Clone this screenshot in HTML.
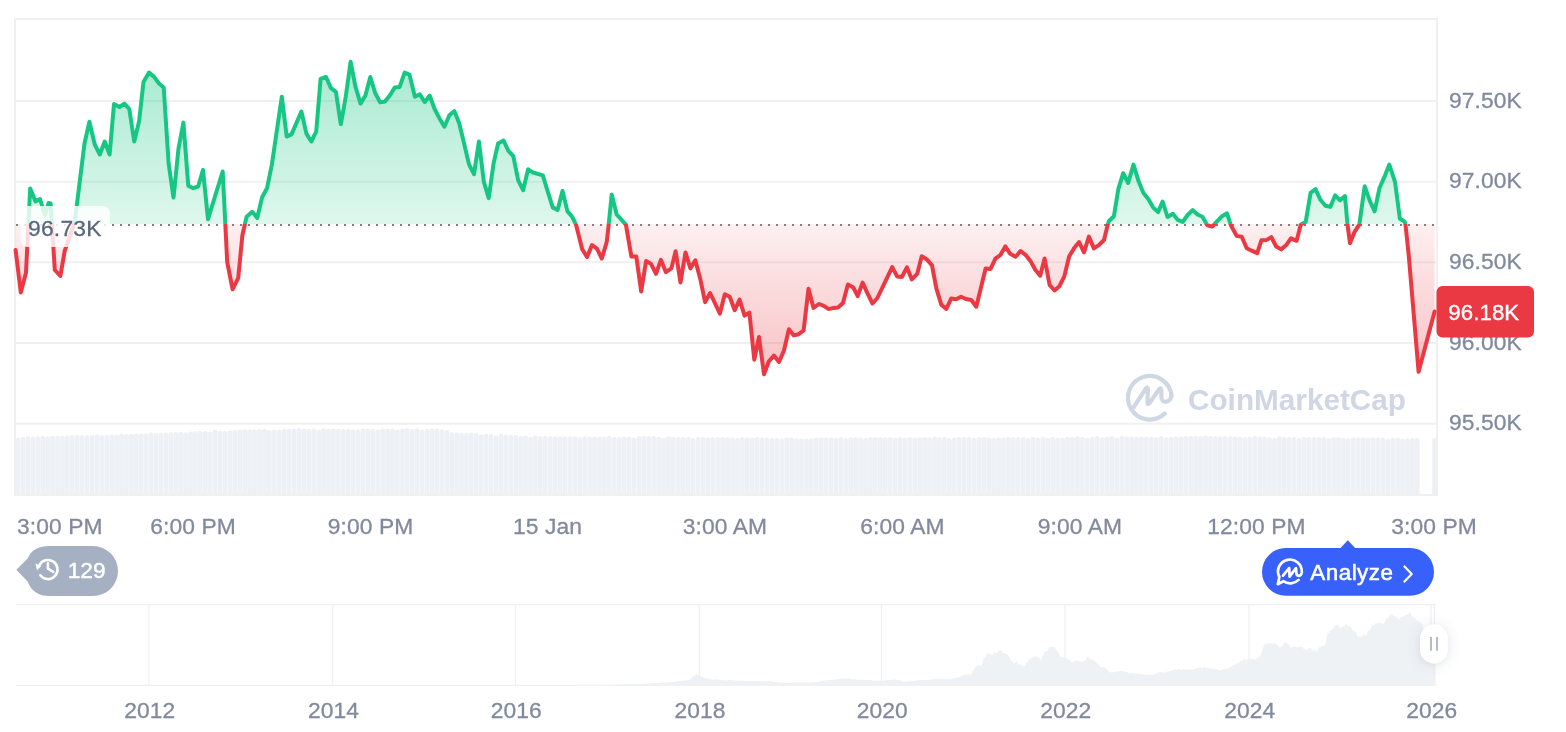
<!DOCTYPE html>
<html lang="en"><head><meta charset="utf-8"><title>BTC chart</title>
<style>
html,body{margin:0;padding:0;background:#fff;}
body{width:1566px;height:732px;overflow:hidden;position:relative;font-family:"Liberation Sans",Arial,sans-serif;}
svg{position:absolute;left:0;top:0;display:block}
svg text{font-family:"Liberation Sans",Arial,sans-serif;}
.ax text{font-size:22.8px;fill:#808A9D;letter-spacing:0.1px;stroke:#808A9D;stroke-width:0.3px}
</style></head><body>
<svg width="1566" height="732" viewBox="0 0 1566 732">
<defs>
<linearGradient id="gg" gradientUnits="userSpaceOnUse" x1="0" y1="19" x2="0" y2="224">
<stop offset="0" stop-color="#16C784" stop-opacity="0.44"/><stop offset="1" stop-color="#16C784" stop-opacity="0.14"/></linearGradient>
<linearGradient id="rg" gradientUnits="userSpaceOnUse" x1="0" y1="224" x2="0" y2="423.5">
<stop offset="0" stop-color="#EA3943" stop-opacity="0.08"/><stop offset="1" stop-color="#EA3943" stop-opacity="0.39"/></linearGradient>
<clipPath id="up"><rect x="0" y="0" width="1566" height="224"/></clipPath>
<clipPath id="dn"><rect x="0" y="224" width="1566" height="300"/></clipPath>
<clipPath id="plot"><rect x="16" y="20" width="1420" height="474"/></clipPath>
<filter id="sh" x="-100%" y="-60%" width="300%" height="220%"><feDropShadow dx="0" dy="1.5" stdDeviation="6" flood-color="#58667E" flood-opacity="0.2"/></filter>
</defs>
<!-- frame -->
<g stroke="#F0F0F0" stroke-width="2" fill="none">
<line x1="14" x2="1438" y1="19" y2="19"/>
<line x1="15" x2="15" y1="19" y2="495"/>
<line x1="1437" x2="1437" y1="19" y2="495"/>
<line x1="14" x2="1438" y1="495" y2="495"/>
<line x1="15" x2="1437" y1="101" y2="101"/><line x1="15" x2="1437" y1="181.7" y2="181.7"/><line x1="15" x2="1437" y1="262.3" y2="262.3"/><line x1="15" x2="1437" y1="343" y2="343"/><line x1="15" x2="1437" y1="423.7" y2="423.7"/>
</g>
<!-- volume -->
<g fill="#EDF0F4" clip-path="url(#plot)"><rect x="15.8" y="437.6" width="4.65" height="59.9" rx="2" ry="2"/><rect x="20.7" y="436.8" width="4.65" height="60.7" rx="2" ry="2"/><rect x="25.6" y="436" width="4.65" height="61.5" rx="2" ry="2"/><rect x="30.5" y="436.4" width="4.65" height="61.1" rx="2" ry="2"/><rect x="35.5" y="436.2" width="4.65" height="61.3" rx="2" ry="2"/><rect x="40.4" y="436" width="4.65" height="61.5" rx="2" ry="2"/><rect x="45.3" y="436.5" width="4.65" height="61" rx="2" ry="2"/><rect x="50.2" y="435.8" width="4.65" height="61.7" rx="2" ry="2"/><rect x="55.2" y="435.7" width="4.65" height="61.8" rx="2" ry="2"/><rect x="60.1" y="435.7" width="4.65" height="61.8" rx="2" ry="2"/><rect x="65" y="435.6" width="4.65" height="61.9" rx="2" ry="2"/><rect x="69.9" y="434.9" width="4.65" height="62.6" rx="2" ry="2"/><rect x="74.9" y="434.8" width="4.65" height="62.7" rx="2" ry="2"/><rect x="79.8" y="435.3" width="4.65" height="62.2" rx="2" ry="2"/><rect x="84.7" y="435.3" width="4.65" height="62.2" rx="2" ry="2"/><rect x="89.7" y="435.2" width="4.65" height="62.3" rx="2" ry="2"/><rect x="94.6" y="434.5" width="4.65" height="63" rx="2" ry="2"/><rect x="99.5" y="435" width="4.65" height="62.5" rx="2" ry="2"/><rect x="104.4" y="434.8" width="4.65" height="62.7" rx="2" ry="2"/><rect x="109.4" y="434.6" width="4.65" height="62.9" rx="2" ry="2"/><rect x="114.3" y="434.4" width="4.65" height="63.1" rx="2" ry="2"/><rect x="119.2" y="433.6" width="4.65" height="63.9" rx="2" ry="2"/><rect x="124.1" y="434" width="4.65" height="63.5" rx="2" ry="2"/><rect x="129.1" y="433.8" width="4.65" height="63.7" rx="2" ry="2"/><rect x="134" y="433.6" width="4.65" height="63.9" rx="2" ry="2"/><rect x="138.9" y="433.4" width="4.65" height="64.1" rx="2" ry="2"/><rect x="143.9" y="433.3" width="4.65" height="64.2" rx="2" ry="2"/><rect x="148.8" y="432.5" width="4.65" height="65" rx="2" ry="2"/><rect x="153.7" y="432.9" width="4.65" height="64.6" rx="2" ry="2"/><rect x="158.6" y="432.7" width="4.65" height="64.8" rx="2" ry="2"/><rect x="163.6" y="432.5" width="4.65" height="65" rx="2" ry="2"/><rect x="168.5" y="432.3" width="4.65" height="65.2" rx="2" ry="2"/><rect x="173.4" y="432.1" width="4.65" height="65.4" rx="2" ry="2"/><rect x="178.3" y="431.9" width="4.65" height="65.6" rx="2" ry="2"/><rect x="183.3" y="432.3" width="4.65" height="65.2" rx="2" ry="2"/><rect x="188.2" y="431.5" width="4.65" height="66" rx="2" ry="2"/><rect x="193.1" y="431.3" width="4.65" height="66.2" rx="2" ry="2"/><rect x="198" y="431.1" width="4.65" height="66.4" rx="2" ry="2"/><rect x="203" y="430.9" width="4.65" height="66.6" rx="2" ry="2"/><rect x="207.9" y="431.6" width="4.65" height="65.9" rx="2" ry="2"/><rect x="212.8" y="429.8" width="4.65" height="67.7" rx="2" ry="2"/><rect x="217.8" y="430.7" width="4.65" height="66.8" rx="2" ry="2"/><rect x="222.7" y="430.9" width="4.65" height="66.6" rx="2" ry="2"/><rect x="227.6" y="430.6" width="4.65" height="66.9" rx="2" ry="2"/><rect x="232.5" y="430.1" width="4.65" height="67.4" rx="2" ry="2"/><rect x="237.5" y="429.4" width="4.65" height="68.1" rx="2" ry="2"/><rect x="242.4" y="429.3" width="4.65" height="68.2" rx="2" ry="2"/><rect x="247.3" y="429.3" width="4.65" height="68.2" rx="2" ry="2"/><rect x="252.2" y="429.2" width="4.65" height="68.3" rx="2" ry="2"/><rect x="257.2" y="429.1" width="4.65" height="68.4" rx="2" ry="2"/><rect x="262.1" y="429" width="4.65" height="68.5" rx="2" ry="2"/><rect x="267" y="430" width="4.65" height="67.5" rx="2" ry="2"/><rect x="272" y="429.5" width="4.65" height="68" rx="2" ry="2"/><rect x="276.9" y="429.8" width="4.65" height="67.7" rx="2" ry="2"/><rect x="281.8" y="428.8" width="4.65" height="68.7" rx="2" ry="2"/><rect x="286.7" y="428.7" width="4.65" height="68.8" rx="2" ry="2"/><rect x="291.7" y="428.6" width="4.65" height="68.9" rx="2" ry="2"/><rect x="296.6" y="428" width="4.65" height="69.5" rx="2" ry="2"/><rect x="301.5" y="428.5" width="4.65" height="69" rx="2" ry="2"/><rect x="306.4" y="429.1" width="4.65" height="68.4" rx="2" ry="2"/><rect x="311.4" y="428.5" width="4.65" height="69" rx="2" ry="2"/><rect x="316.3" y="429.5" width="4.65" height="68" rx="2" ry="2"/><rect x="321.2" y="427.9" width="4.65" height="69.6" rx="2" ry="2"/><rect x="326.2" y="428.5" width="4.65" height="69" rx="2" ry="2"/><rect x="331.1" y="428.5" width="4.65" height="69" rx="2" ry="2"/><rect x="336" y="429.1" width="4.65" height="68.4" rx="2" ry="2"/><rect x="340.9" y="429.1" width="4.65" height="68.4" rx="2" ry="2"/><rect x="345.9" y="429.1" width="4.65" height="68.4" rx="2" ry="2"/><rect x="350.8" y="429.5" width="4.65" height="68" rx="2" ry="2"/><rect x="355.7" y="429.5" width="4.65" height="68" rx="2" ry="2"/><rect x="360.6" y="428.5" width="4.65" height="69" rx="2" ry="2"/><rect x="365.6" y="428.5" width="4.65" height="69" rx="2" ry="2"/><rect x="370.5" y="428.5" width="4.65" height="69" rx="2" ry="2"/><rect x="375.4" y="429.5" width="4.65" height="68" rx="2" ry="2"/><rect x="380.3" y="428.5" width="4.65" height="69" rx="2" ry="2"/><rect x="385.3" y="428.5" width="4.65" height="69" rx="2" ry="2"/><rect x="390.2" y="428.5" width="4.65" height="69" rx="2" ry="2"/><rect x="395.1" y="429.5" width="4.65" height="68" rx="2" ry="2"/><rect x="400.1" y="428.5" width="4.65" height="69" rx="2" ry="2"/><rect x="405" y="427.9" width="4.65" height="69.6" rx="2" ry="2"/><rect x="409.9" y="429.1" width="4.65" height="68.4" rx="2" ry="2"/><rect x="414.8" y="428.5" width="4.65" height="69" rx="2" ry="2"/><rect x="419.8" y="429.5" width="4.65" height="68" rx="2" ry="2"/><rect x="424.7" y="429.1" width="4.65" height="68.4" rx="2" ry="2"/><rect x="429.6" y="428.5" width="4.65" height="69" rx="2" ry="2"/><rect x="434.5" y="428.5" width="4.65" height="69" rx="2" ry="2"/><rect x="439.5" y="429.5" width="4.65" height="68" rx="2" ry="2"/><rect x="444.4" y="430.2" width="4.65" height="67.3" rx="2" ry="2"/><rect x="449.3" y="432.2" width="4.65" height="65.3" rx="2" ry="2"/><rect x="454.3" y="432.7" width="4.65" height="64.8" rx="2" ry="2"/><rect x="459.2" y="432.9" width="4.65" height="64.6" rx="2" ry="2"/><rect x="464.1" y="433.1" width="4.65" height="64.4" rx="2" ry="2"/><rect x="469" y="432.7" width="4.65" height="64.8" rx="2" ry="2"/><rect x="474" y="432.9" width="4.65" height="64.6" rx="2" ry="2"/><rect x="478.9" y="434.6" width="4.65" height="62.9" rx="2" ry="2"/><rect x="483.8" y="433.8" width="4.65" height="63.7" rx="2" ry="2"/><rect x="488.7" y="434" width="4.65" height="63.5" rx="2" ry="2"/><rect x="493.7" y="435.2" width="4.65" height="62.3" rx="2" ry="2"/><rect x="498.6" y="433.8" width="4.65" height="63.7" rx="2" ry="2"/><rect x="503.5" y="434.8" width="4.65" height="62.7" rx="2" ry="2"/><rect x="508.4" y="435.1" width="4.65" height="62.4" rx="2" ry="2"/><rect x="513.4" y="434.9" width="4.65" height="62.6" rx="2" ry="2"/><rect x="518.3" y="435.9" width="4.65" height="61.6" rx="2" ry="2"/><rect x="523.2" y="435.4" width="4.65" height="62.1" rx="2" ry="2"/><rect x="528.2" y="436.6" width="4.65" height="60.9" rx="2" ry="2"/><rect x="533.1" y="435.5" width="4.65" height="62" rx="2" ry="2"/><rect x="538" y="436.1" width="4.65" height="61.4" rx="2" ry="2"/><rect x="542.9" y="436.1" width="4.65" height="61.4" rx="2" ry="2"/><rect x="547.9" y="436.2" width="4.65" height="61.3" rx="2" ry="2"/><rect x="552.8" y="436.2" width="4.65" height="61.3" rx="2" ry="2"/><rect x="557.7" y="436.2" width="4.65" height="61.3" rx="2" ry="2"/><rect x="562.6" y="436.2" width="4.65" height="61.3" rx="2" ry="2"/><rect x="567.6" y="436.3" width="4.65" height="61.2" rx="2" ry="2"/><rect x="572.5" y="436.3" width="4.65" height="61.2" rx="2" ry="2"/><rect x="577.4" y="437.3" width="4.65" height="60.2" rx="2" ry="2"/><rect x="582.4" y="436.3" width="4.65" height="61.2" rx="2" ry="2"/><rect x="587.3" y="436.4" width="4.65" height="61.1" rx="2" ry="2"/><rect x="592.2" y="436.4" width="4.65" height="61.1" rx="2" ry="2"/><rect x="597.1" y="436.4" width="4.65" height="61.1" rx="2" ry="2"/><rect x="602.1" y="436.5" width="4.65" height="61" rx="2" ry="2"/><rect x="607" y="435.9" width="4.65" height="61.6" rx="2" ry="2"/><rect x="611.9" y="437.1" width="4.65" height="60.4" rx="2" ry="2"/><rect x="616.8" y="437.1" width="4.65" height="60.4" rx="2" ry="2"/><rect x="621.8" y="436.6" width="4.65" height="60.9" rx="2" ry="2"/><rect x="626.7" y="436.6" width="4.65" height="60.9" rx="2" ry="2"/><rect x="631.6" y="437.6" width="4.65" height="59.9" rx="2" ry="2"/><rect x="636.6" y="436" width="4.65" height="61.5" rx="2" ry="2"/><rect x="641.5" y="436.1" width="4.65" height="61.4" rx="2" ry="2"/><rect x="646.4" y="436.1" width="4.65" height="61.4" rx="2" ry="2"/><rect x="651.3" y="436.1" width="4.65" height="61.4" rx="2" ry="2"/><rect x="656.3" y="436.8" width="4.65" height="60.7" rx="2" ry="2"/><rect x="661.2" y="437.8" width="4.65" height="59.7" rx="2" ry="2"/><rect x="666.1" y="436.2" width="4.65" height="61.3" rx="2" ry="2"/><rect x="671" y="436.8" width="4.65" height="60.7" rx="2" ry="2"/><rect x="676" y="436.9" width="4.65" height="60.6" rx="2" ry="2"/><rect x="680.9" y="436.9" width="4.65" height="60.6" rx="2" ry="2"/><rect x="685.8" y="436.9" width="4.65" height="60.6" rx="2" ry="2"/><rect x="690.7" y="437.9" width="4.65" height="59.6" rx="2" ry="2"/><rect x="695.7" y="437" width="4.65" height="60.5" rx="2" ry="2"/><rect x="700.6" y="437" width="4.65" height="60.5" rx="2" ry="2"/><rect x="705.5" y="437.6" width="4.65" height="59.9" rx="2" ry="2"/><rect x="710.5" y="437.1" width="4.65" height="60.4" rx="2" ry="2"/><rect x="715.4" y="437.1" width="4.65" height="60.4" rx="2" ry="2"/><rect x="720.3" y="437.2" width="4.65" height="60.3" rx="2" ry="2"/><rect x="725.2" y="437.2" width="4.65" height="60.3" rx="2" ry="2"/><rect x="730.2" y="437.3" width="4.65" height="60.2" rx="2" ry="2"/><rect x="735.1" y="437.9" width="4.65" height="59.6" rx="2" ry="2"/><rect x="740" y="437.3" width="4.65" height="60.2" rx="2" ry="2"/><rect x="744.9" y="437.4" width="4.65" height="60.1" rx="2" ry="2"/><rect x="749.9" y="437.4" width="4.65" height="60.1" rx="2" ry="2"/><rect x="754.8" y="436.9" width="4.65" height="60.6" rx="2" ry="2"/><rect x="759.7" y="437.5" width="4.65" height="60" rx="2" ry="2"/><rect x="764.7" y="437.5" width="4.65" height="60" rx="2" ry="2"/><rect x="769.6" y="438.1" width="4.65" height="59.4" rx="2" ry="2"/><rect x="774.5" y="438.1" width="4.65" height="59.4" rx="2" ry="2"/><rect x="779.4" y="438.5" width="4.65" height="59" rx="2" ry="2"/><rect x="784.4" y="437.4" width="4.65" height="60.1" rx="2" ry="2"/><rect x="789.3" y="437.4" width="4.65" height="60.1" rx="2" ry="2"/><rect x="794.2" y="438.4" width="4.65" height="59.1" rx="2" ry="2"/><rect x="799.1" y="438.4" width="4.65" height="59.1" rx="2" ry="2"/><rect x="804.1" y="438.4" width="4.65" height="59.1" rx="2" ry="2"/><rect x="809" y="438.4" width="4.65" height="59.1" rx="2" ry="2"/><rect x="813.9" y="437.4" width="4.65" height="60.1" rx="2" ry="2"/><rect x="818.9" y="437.4" width="4.65" height="60.1" rx="2" ry="2"/><rect x="823.8" y="437.4" width="4.65" height="60.1" rx="2" ry="2"/><rect x="828.7" y="437.4" width="4.65" height="60.1" rx="2" ry="2"/><rect x="833.6" y="437.9" width="4.65" height="59.6" rx="2" ry="2"/><rect x="838.6" y="437.3" width="4.65" height="60.2" rx="2" ry="2"/><rect x="843.5" y="438.3" width="4.65" height="59.2" rx="2" ry="2"/><rect x="848.4" y="437.3" width="4.65" height="60.2" rx="2" ry="2"/><rect x="853.3" y="437.3" width="4.65" height="60.2" rx="2" ry="2"/><rect x="858.3" y="437.3" width="4.65" height="60.2" rx="2" ry="2"/><rect x="863.2" y="437.9" width="4.65" height="59.6" rx="2" ry="2"/><rect x="868.1" y="437.3" width="4.65" height="60.2" rx="2" ry="2"/><rect x="873" y="437.3" width="4.65" height="60.2" rx="2" ry="2"/><rect x="878" y="437.3" width="4.65" height="60.2" rx="2" ry="2"/><rect x="882.9" y="437.2" width="4.65" height="60.3" rx="2" ry="2"/><rect x="887.8" y="437.2" width="4.65" height="60.3" rx="2" ry="2"/><rect x="892.8" y="437.8" width="4.65" height="59.7" rx="2" ry="2"/><rect x="897.7" y="437.2" width="4.65" height="60.3" rx="2" ry="2"/><rect x="902.6" y="437.8" width="4.65" height="59.7" rx="2" ry="2"/><rect x="907.5" y="437.2" width="4.65" height="60.3" rx="2" ry="2"/><rect x="912.5" y="437.8" width="4.65" height="59.7" rx="2" ry="2"/><rect x="917.4" y="437.2" width="4.65" height="60.3" rx="2" ry="2"/><rect x="922.3" y="437.2" width="4.65" height="60.3" rx="2" ry="2"/><rect x="927.2" y="437.2" width="4.65" height="60.3" rx="2" ry="2"/><rect x="932.2" y="436.5" width="4.65" height="61" rx="2" ry="2"/><rect x="937.1" y="437.1" width="4.65" height="60.4" rx="2" ry="2"/><rect x="942" y="437.1" width="4.65" height="60.4" rx="2" ry="2"/><rect x="947" y="438.1" width="4.65" height="59.4" rx="2" ry="2"/><rect x="951.9" y="437.7" width="4.65" height="59.8" rx="2" ry="2"/><rect x="956.8" y="437.1" width="4.65" height="60.4" rx="2" ry="2"/><rect x="961.7" y="437.1" width="4.65" height="60.4" rx="2" ry="2"/><rect x="966.7" y="437.1" width="4.65" height="60.4" rx="2" ry="2"/><rect x="971.6" y="438.1" width="4.65" height="59.4" rx="2" ry="2"/><rect x="976.5" y="437" width="4.65" height="60.5" rx="2" ry="2"/><rect x="981.4" y="437" width="4.65" height="60.5" rx="2" ry="2"/><rect x="986.4" y="437.6" width="4.65" height="59.9" rx="2" ry="2"/><rect x="991.3" y="438" width="4.65" height="59.5" rx="2" ry="2"/><rect x="996.2" y="437.6" width="4.65" height="59.9" rx="2" ry="2"/><rect x="1001.1" y="437.6" width="4.65" height="59.9" rx="2" ry="2"/><rect x="1006.1" y="437" width="4.65" height="60.5" rx="2" ry="2"/><rect x="1011" y="437" width="4.65" height="60.5" rx="2" ry="2"/><rect x="1015.9" y="436.9" width="4.65" height="60.6" rx="2" ry="2"/><rect x="1020.9" y="436.9" width="4.65" height="60.6" rx="2" ry="2"/><rect x="1025.8" y="437.9" width="4.65" height="59.6" rx="2" ry="2"/><rect x="1030.7" y="436.9" width="4.65" height="60.6" rx="2" ry="2"/><rect x="1035.6" y="437.5" width="4.65" height="60" rx="2" ry="2"/><rect x="1040.6" y="436.8" width="4.65" height="60.7" rx="2" ry="2"/><rect x="1045.5" y="437.8" width="4.65" height="59.7" rx="2" ry="2"/><rect x="1050.4" y="436.8" width="4.65" height="60.7" rx="2" ry="2"/><rect x="1055.3" y="437.8" width="4.65" height="59.7" rx="2" ry="2"/><rect x="1060.3" y="437.4" width="4.65" height="60.1" rx="2" ry="2"/><rect x="1065.2" y="436.7" width="4.65" height="60.8" rx="2" ry="2"/><rect x="1070.1" y="436.7" width="4.65" height="60.8" rx="2" ry="2"/><rect x="1075.1" y="436.1" width="4.65" height="61.4" rx="2" ry="2"/><rect x="1080" y="436.7" width="4.65" height="60.8" rx="2" ry="2"/><rect x="1084.9" y="437.7" width="4.65" height="59.8" rx="2" ry="2"/><rect x="1089.8" y="436.7" width="4.65" height="60.8" rx="2" ry="2"/><rect x="1094.8" y="436" width="4.65" height="61.5" rx="2" ry="2"/><rect x="1099.7" y="437.2" width="4.65" height="60.3" rx="2" ry="2"/><rect x="1104.6" y="436.6" width="4.65" height="60.9" rx="2" ry="2"/><rect x="1109.5" y="436" width="4.65" height="61.5" rx="2" ry="2"/><rect x="1114.5" y="437.6" width="4.65" height="59.9" rx="2" ry="2"/><rect x="1119.4" y="435.9" width="4.65" height="61.6" rx="2" ry="2"/><rect x="1124.3" y="436.5" width="4.65" height="61" rx="2" ry="2"/><rect x="1129.3" y="436.5" width="4.65" height="61" rx="2" ry="2"/><rect x="1134.2" y="436.5" width="4.65" height="61" rx="2" ry="2"/><rect x="1139.1" y="436.4" width="4.65" height="61.1" rx="2" ry="2"/><rect x="1144" y="436.4" width="4.65" height="61.1" rx="2" ry="2"/><rect x="1149" y="436.4" width="4.65" height="61.1" rx="2" ry="2"/><rect x="1153.9" y="437.3" width="4.65" height="60.2" rx="2" ry="2"/><rect x="1158.8" y="436.3" width="4.65" height="61.2" rx="2" ry="2"/><rect x="1163.7" y="437.3" width="4.65" height="60.2" rx="2" ry="2"/><rect x="1168.7" y="436.8" width="4.65" height="60.7" rx="2" ry="2"/><rect x="1173.6" y="436.2" width="4.65" height="61.3" rx="2" ry="2"/><rect x="1178.5" y="436.2" width="4.65" height="61.3" rx="2" ry="2"/><rect x="1183.4" y="436.1" width="4.65" height="61.4" rx="2" ry="2"/><rect x="1188.4" y="436.1" width="4.65" height="61.4" rx="2" ry="2"/><rect x="1193.3" y="436" width="4.65" height="61.5" rx="2" ry="2"/><rect x="1198.2" y="436" width="4.65" height="61.5" rx="2" ry="2"/><rect x="1203.2" y="435.4" width="4.65" height="62.1" rx="2" ry="2"/><rect x="1208.1" y="436.1" width="4.65" height="61.4" rx="2" ry="2"/><rect x="1213" y="436.1" width="4.65" height="61.4" rx="2" ry="2"/><rect x="1217.9" y="436.2" width="4.65" height="61.3" rx="2" ry="2"/><rect x="1222.9" y="436.2" width="4.65" height="61.3" rx="2" ry="2"/><rect x="1227.8" y="436.3" width="4.65" height="61.2" rx="2" ry="2"/><rect x="1232.7" y="436.3" width="4.65" height="61.2" rx="2" ry="2"/><rect x="1237.6" y="436.4" width="4.65" height="61.1" rx="2" ry="2"/><rect x="1242.6" y="437" width="4.65" height="60.5" rx="2" ry="2"/><rect x="1247.5" y="436.5" width="4.65" height="61" rx="2" ry="2"/><rect x="1252.4" y="435.9" width="4.65" height="61.6" rx="2" ry="2"/><rect x="1257.4" y="436.6" width="4.65" height="60.9" rx="2" ry="2"/><rect x="1262.3" y="436.6" width="4.65" height="60.9" rx="2" ry="2"/><rect x="1267.2" y="437.3" width="4.65" height="60.2" rx="2" ry="2"/><rect x="1272.1" y="437.7" width="4.65" height="59.8" rx="2" ry="2"/><rect x="1277.1" y="436.2" width="4.65" height="61.3" rx="2" ry="2"/><rect x="1282" y="436.8" width="4.65" height="60.7" rx="2" ry="2"/><rect x="1286.9" y="436.9" width="4.65" height="60.6" rx="2" ry="2"/><rect x="1291.8" y="436.9" width="4.65" height="60.6" rx="2" ry="2"/><rect x="1296.8" y="438" width="4.65" height="59.5" rx="2" ry="2"/><rect x="1301.7" y="437" width="4.65" height="60.5" rx="2" ry="2"/><rect x="1306.6" y="437.1" width="4.65" height="60.4" rx="2" ry="2"/><rect x="1311.6" y="437.1" width="4.65" height="60.4" rx="2" ry="2"/><rect x="1316.5" y="437.1" width="4.65" height="60.4" rx="2" ry="2"/><rect x="1321.4" y="437.2" width="4.65" height="60.3" rx="2" ry="2"/><rect x="1326.3" y="438.2" width="4.65" height="59.3" rx="2" ry="2"/><rect x="1331.3" y="437.3" width="4.65" height="60.2" rx="2" ry="2"/><rect x="1336.2" y="437.3" width="4.65" height="60.2" rx="2" ry="2"/><rect x="1341.1" y="437.9" width="4.65" height="59.6" rx="2" ry="2"/><rect x="1346" y="438.4" width="4.65" height="59.1" rx="2" ry="2"/><rect x="1351" y="437.4" width="4.65" height="60.1" rx="2" ry="2"/><rect x="1355.9" y="437.5" width="4.65" height="60" rx="2" ry="2"/><rect x="1360.8" y="437.5" width="4.65" height="60" rx="2" ry="2"/><rect x="1365.7" y="437.5" width="4.65" height="60" rx="2" ry="2"/><rect x="1370.7" y="437.6" width="4.65" height="59.9" rx="2" ry="2"/><rect x="1375.6" y="437.6" width="4.65" height="59.9" rx="2" ry="2"/><rect x="1380.5" y="437.7" width="4.65" height="59.8" rx="2" ry="2"/><rect x="1385.5" y="438.7" width="4.65" height="58.8" rx="2" ry="2"/><rect x="1390.4" y="437.7" width="4.65" height="59.8" rx="2" ry="2"/><rect x="1395.3" y="437.8" width="4.65" height="59.7" rx="2" ry="2"/><rect x="1400.2" y="438.8" width="4.65" height="58.7" rx="2" ry="2"/><rect x="1405.2" y="438.5" width="4.65" height="59" rx="2" ry="2"/><rect x="1410.1" y="437.9" width="4.65" height="59.6" rx="2" ry="2"/><rect x="1415" y="437.9" width="4.65" height="59.6" rx="2" ry="2"/><rect x="1432.2" y="438" width="4.3" height="60" rx="2"/></g>
<!-- watermark -->
<g fill="none" stroke="#CFD6E4" stroke-width="4.2" stroke-linecap="round" stroke-linejoin="round">
<path d="M1164.8 413.6 A21.8 21.8 0 1 1 1171.5 396.1"/>
<path d="M1133.8 407 L1145.8 388.6 Q1147.6 386.3 1148 389.1 L1147.4 402.6 Q1147.6 405.4 1149.4 403.2 L1158.9 389.4 Q1161 386.8 1161.3 390 L1161.5 397.4 Q1162 402.5 1166.4 401.6 Q1171.2 400.4 1171.5 395"/>
</g>
<text x="1188" y="410" font-size="30" font-weight="700" fill="#CFD6E4" textLength="218" lengthAdjust="spacingAndGlyphs">CoinMarketCap</text>
<!-- series -->
<g clip-path="url(#up)"><path d="M15.6 250 L20.8 292.5 L26 272.5 L30.2 188.4 L35.5 201.5 L40 199 L42.2 206 L45.1 215 L48.6 203 L50.6 203.4 L54.8 270 L60.4 276 L64.7 251 L74.7 222 L84.5 143.5 L89.4 121.8 L94.8 144.7 L99.8 154.5 L104.7 141.5 L109.6 154.5 L114 104.1 L119.4 107 L124.4 103.6 L129.3 109 L134.2 141.5 L139.1 121.3 L143.5 82 L149 72.6 L153.9 76.6 L158.8 83.2 L163.7 87.4 L168.6 163.1 L173.5 197.6 L178.5 148.4 L183.4 122.6 L188.3 185.8 L193.2 188.2 L198.1 186.5 L203 170 L208 219.2 L222.7 171.5 L227.2 262 L232.6 289.3 L238.2 278.2 L242.4 235.2 L246.6 216.7 L252.2 211.8 L257.2 218 L262.1 197.3 L267 188.3 L271.9 164.4 L281.8 96.7 L286.7 136.6 L291.6 134.1 L301.4 111.5 L306.4 133.6 L311.3 141.5 L316.2 131.7 L320.6 79 L326 77 L331 88.1 L335.9 91.8 L340.8 124.3 L345.7 97 L350.6 61.8 L355.5 86.9 L360.5 103.6 L365.4 95.5 L370.3 77 L375.2 93 L380.1 102.4 L384.9 101.6 L389.8 95.5 L394.8 87.4 L399.7 86.9 L404.6 72.6 L409.5 74.6 L414.9 96.7 L419.8 94.3 L424.8 102.1 L429.7 95.5 L434.6 109 L439.5 118.4 L444.4 126.7 L449.4 115.2 L454.3 111 L459.2 123.3 L464.1 143.5 L469 164.4 L474 174.2 L478.9 141.5 L483.8 181.6 L488.7 198.1 L493.6 163.1 L498.1 143.5 L503.5 140.5 L508.4 150.8 L513.3 156.2 L518.2 180.3 L523.1 190.2 L528.1 169.3 L533 172.5 L542.8 175.4 L547.7 191.4 L552.7 207.4 L557.6 209.9 L562.5 190.9 L567.4 211.1 L572.3 217 L576 224.6 L582.2 249.2 L587.1 257.1 L592 245 L596.9 248.7 L601.8 258.5 L606.8 241.8 L608.7 224.6 L611.7 194.5 L616.6 214.3 L625.9 224.6 L631.4 256.6 L636.3 256.6 L641.2 291.5 L646.1 261 L651 263.9 L656 273.8 L660.9 259.8 L665.8 272.1 L671.4 268.4 L675.6 251.2 L680.5 282.4 L685.5 252.4 L690.4 268.4 L695.3 260.3 L700.2 278.7 L705.1 302.1 L710.1 293 L719.9 313.6 L724.8 294.2 L729.7 296.7 L734.7 310.2 L739.6 299.6 L744.5 315.6 L749.4 312.6 L754.3 359.7 L759 337 L764 374.3 L768.9 361.3 L773.9 355.6 L779 362 L783.9 350.7 L788.9 329.3 L793.8 335.4 L798.7 334.2 L803.6 330.5 L808.5 288.7 L813.5 307.9 L818.9 304 L823.8 305.9 L828.7 309.1 L833.6 307.9 L838 307.4 L843 303 L847.9 284.5 L853.3 287.5 L857.7 296.1 L862.6 282.6 L867.6 293.6 L872.5 303.5 L877.4 298 L892.2 267.1 L897.1 276.4 L902 276.9 L906.9 267.3 L911.8 279.4 L917.2 273.9 L921.7 256.2 L926.6 259.2 L932 265.3 L936.4 288.7 L941.3 304.7 L946.3 308.9 L951.2 298.5 L956.1 299.3 L961 296.8 L965.9 299 L971.3 300 L976.3 306.7 L985.6 268.5 L990.5 269 L995.4 258.7 L1000.4 255 L1005.3 246.4 L1010.2 253.8 L1015.6 256.7 L1020.5 251.1 L1025.5 254.8 L1030.4 260.9 L1035.3 269.8 L1040.2 275.7 L1044.6 258.5 L1049.6 285 L1054.5 290.4 L1059.4 286.2 L1064.3 276.4 L1069.2 256.2 L1074.2 248.1 L1079.1 242 L1084 252.3 L1088.9 236.6 L1093.9 248.4 L1098.8 245.2 L1104 240 L1107.8 224.6 L1109 221 L1113.9 216.2 L1118.3 189.2 L1123.2 173.2 L1128.1 183 L1133.5 164.6 L1138.5 181.1 L1143.4 192.9 L1148.3 199 L1153.2 207.6 L1158.1 212.1 L1162.6 201.5 L1167.5 217 L1172.9 213.8 L1177.8 219.9 L1182.7 221.9 L1187.6 215 L1192.6 210.1 L1197.5 214.5 L1202.4 216.7 L1207.3 225.3 L1212.2 226.6 L1217.2 221.2 L1222.1 216.2 L1227 213.3 L1230.7 224.6 L1231.9 227.3 L1236.8 235.9 L1241.7 236.7 L1246.7 248.2 L1251.6 250.7 L1257.2 253.1 L1261.4 240.3 L1266.3 240.1 L1271.3 237.1 L1276.2 246.5 L1281.1 249.4 L1286 245.3 L1290.9 238.4 L1296.6 240.8 L1300.8 224.6 L1305.7 221.9 L1310.6 192.9 L1315.5 189.2 L1320.4 199.8 L1325.4 205.7 L1330.3 206.9 L1335.2 195.3 L1340.1 200.3 L1345 196.1 L1347.5 224.6 L1350 243.3 L1354.4 232.2 L1359.3 224.6 L1364.7 186.2 L1369.6 200.3 L1374.6 211.3 L1379.5 188 L1384.4 176.9 L1389.3 164.6 L1395 181.8 L1399.9 218.7 L1404.6 221.5 L1405.5 224.6 L1408.8 256 L1418.6 371.8 L1434.6 311.5 L1434.6 224 L15.6 224 Z" fill="url(#gg)"/></g>
<g clip-path="url(#dn)"><path d="M15.6 250 L20.8 292.5 L26 272.5 L30.2 188.4 L35.5 201.5 L40 199 L42.2 206 L45.1 215 L48.6 203 L50.6 203.4 L54.8 270 L60.4 276 L64.7 251 L74.7 222 L84.5 143.5 L89.4 121.8 L94.8 144.7 L99.8 154.5 L104.7 141.5 L109.6 154.5 L114 104.1 L119.4 107 L124.4 103.6 L129.3 109 L134.2 141.5 L139.1 121.3 L143.5 82 L149 72.6 L153.9 76.6 L158.8 83.2 L163.7 87.4 L168.6 163.1 L173.5 197.6 L178.5 148.4 L183.4 122.6 L188.3 185.8 L193.2 188.2 L198.1 186.5 L203 170 L208 219.2 L222.7 171.5 L227.2 262 L232.6 289.3 L238.2 278.2 L242.4 235.2 L246.6 216.7 L252.2 211.8 L257.2 218 L262.1 197.3 L267 188.3 L271.9 164.4 L281.8 96.7 L286.7 136.6 L291.6 134.1 L301.4 111.5 L306.4 133.6 L311.3 141.5 L316.2 131.7 L320.6 79 L326 77 L331 88.1 L335.9 91.8 L340.8 124.3 L345.7 97 L350.6 61.8 L355.5 86.9 L360.5 103.6 L365.4 95.5 L370.3 77 L375.2 93 L380.1 102.4 L384.9 101.6 L389.8 95.5 L394.8 87.4 L399.7 86.9 L404.6 72.6 L409.5 74.6 L414.9 96.7 L419.8 94.3 L424.8 102.1 L429.7 95.5 L434.6 109 L439.5 118.4 L444.4 126.7 L449.4 115.2 L454.3 111 L459.2 123.3 L464.1 143.5 L469 164.4 L474 174.2 L478.9 141.5 L483.8 181.6 L488.7 198.1 L493.6 163.1 L498.1 143.5 L503.5 140.5 L508.4 150.8 L513.3 156.2 L518.2 180.3 L523.1 190.2 L528.1 169.3 L533 172.5 L542.8 175.4 L547.7 191.4 L552.7 207.4 L557.6 209.9 L562.5 190.9 L567.4 211.1 L572.3 217 L576 224.6 L582.2 249.2 L587.1 257.1 L592 245 L596.9 248.7 L601.8 258.5 L606.8 241.8 L608.7 224.6 L611.7 194.5 L616.6 214.3 L625.9 224.6 L631.4 256.6 L636.3 256.6 L641.2 291.5 L646.1 261 L651 263.9 L656 273.8 L660.9 259.8 L665.8 272.1 L671.4 268.4 L675.6 251.2 L680.5 282.4 L685.5 252.4 L690.4 268.4 L695.3 260.3 L700.2 278.7 L705.1 302.1 L710.1 293 L719.9 313.6 L724.8 294.2 L729.7 296.7 L734.7 310.2 L739.6 299.6 L744.5 315.6 L749.4 312.6 L754.3 359.7 L759 337 L764 374.3 L768.9 361.3 L773.9 355.6 L779 362 L783.9 350.7 L788.9 329.3 L793.8 335.4 L798.7 334.2 L803.6 330.5 L808.5 288.7 L813.5 307.9 L818.9 304 L823.8 305.9 L828.7 309.1 L833.6 307.9 L838 307.4 L843 303 L847.9 284.5 L853.3 287.5 L857.7 296.1 L862.6 282.6 L867.6 293.6 L872.5 303.5 L877.4 298 L892.2 267.1 L897.1 276.4 L902 276.9 L906.9 267.3 L911.8 279.4 L917.2 273.9 L921.7 256.2 L926.6 259.2 L932 265.3 L936.4 288.7 L941.3 304.7 L946.3 308.9 L951.2 298.5 L956.1 299.3 L961 296.8 L965.9 299 L971.3 300 L976.3 306.7 L985.6 268.5 L990.5 269 L995.4 258.7 L1000.4 255 L1005.3 246.4 L1010.2 253.8 L1015.6 256.7 L1020.5 251.1 L1025.5 254.8 L1030.4 260.9 L1035.3 269.8 L1040.2 275.7 L1044.6 258.5 L1049.6 285 L1054.5 290.4 L1059.4 286.2 L1064.3 276.4 L1069.2 256.2 L1074.2 248.1 L1079.1 242 L1084 252.3 L1088.9 236.6 L1093.9 248.4 L1098.8 245.2 L1104 240 L1107.8 224.6 L1109 221 L1113.9 216.2 L1118.3 189.2 L1123.2 173.2 L1128.1 183 L1133.5 164.6 L1138.5 181.1 L1143.4 192.9 L1148.3 199 L1153.2 207.6 L1158.1 212.1 L1162.6 201.5 L1167.5 217 L1172.9 213.8 L1177.8 219.9 L1182.7 221.9 L1187.6 215 L1192.6 210.1 L1197.5 214.5 L1202.4 216.7 L1207.3 225.3 L1212.2 226.6 L1217.2 221.2 L1222.1 216.2 L1227 213.3 L1230.7 224.6 L1231.9 227.3 L1236.8 235.9 L1241.7 236.7 L1246.7 248.2 L1251.6 250.7 L1257.2 253.1 L1261.4 240.3 L1266.3 240.1 L1271.3 237.1 L1276.2 246.5 L1281.1 249.4 L1286 245.3 L1290.9 238.4 L1296.6 240.8 L1300.8 224.6 L1305.7 221.9 L1310.6 192.9 L1315.5 189.2 L1320.4 199.8 L1325.4 205.7 L1330.3 206.9 L1335.2 195.3 L1340.1 200.3 L1345 196.1 L1347.5 224.6 L1350 243.3 L1354.4 232.2 L1359.3 224.6 L1364.7 186.2 L1369.6 200.3 L1374.6 211.3 L1379.5 188 L1384.4 176.9 L1389.3 164.6 L1395 181.8 L1399.9 218.7 L1404.6 221.5 L1405.5 224.6 L1408.8 256 L1418.6 371.8 L1434.6 311.5 L1434.6 224 L15.6 224 Z" fill="url(#rg)"/></g>
<line x1="16" x2="1435" y1="225" y2="225" stroke="#808080" stroke-width="2" stroke-dasharray="2 6"/>
<g fill="none" stroke-width="4" stroke-linejoin="round" stroke-linecap="round">
<g clip-path="url(#up)"><path d="M15.6 250 L20.8 292.5 L26 272.5 L30.2 188.4 L35.5 201.5 L40 199 L42.2 206 L45.1 215 L48.6 203 L50.6 203.4 L54.8 270 L60.4 276 L64.7 251 L74.7 222 L84.5 143.5 L89.4 121.8 L94.8 144.7 L99.8 154.5 L104.7 141.5 L109.6 154.5 L114 104.1 L119.4 107 L124.4 103.6 L129.3 109 L134.2 141.5 L139.1 121.3 L143.5 82 L149 72.6 L153.9 76.6 L158.8 83.2 L163.7 87.4 L168.6 163.1 L173.5 197.6 L178.5 148.4 L183.4 122.6 L188.3 185.8 L193.2 188.2 L198.1 186.5 L203 170 L208 219.2 L222.7 171.5 L227.2 262 L232.6 289.3 L238.2 278.2 L242.4 235.2 L246.6 216.7 L252.2 211.8 L257.2 218 L262.1 197.3 L267 188.3 L271.9 164.4 L281.8 96.7 L286.7 136.6 L291.6 134.1 L301.4 111.5 L306.4 133.6 L311.3 141.5 L316.2 131.7 L320.6 79 L326 77 L331 88.1 L335.9 91.8 L340.8 124.3 L345.7 97 L350.6 61.8 L355.5 86.9 L360.5 103.6 L365.4 95.5 L370.3 77 L375.2 93 L380.1 102.4 L384.9 101.6 L389.8 95.5 L394.8 87.4 L399.7 86.9 L404.6 72.6 L409.5 74.6 L414.9 96.7 L419.8 94.3 L424.8 102.1 L429.7 95.5 L434.6 109 L439.5 118.4 L444.4 126.7 L449.4 115.2 L454.3 111 L459.2 123.3 L464.1 143.5 L469 164.4 L474 174.2 L478.9 141.5 L483.8 181.6 L488.7 198.1 L493.6 163.1 L498.1 143.5 L503.5 140.5 L508.4 150.8 L513.3 156.2 L518.2 180.3 L523.1 190.2 L528.1 169.3 L533 172.5 L542.8 175.4 L547.7 191.4 L552.7 207.4 L557.6 209.9 L562.5 190.9 L567.4 211.1 L572.3 217 L576 224.6 L582.2 249.2 L587.1 257.1 L592 245 L596.9 248.7 L601.8 258.5 L606.8 241.8 L608.7 224.6 L611.7 194.5 L616.6 214.3 L625.9 224.6 L631.4 256.6 L636.3 256.6 L641.2 291.5 L646.1 261 L651 263.9 L656 273.8 L660.9 259.8 L665.8 272.1 L671.4 268.4 L675.6 251.2 L680.5 282.4 L685.5 252.4 L690.4 268.4 L695.3 260.3 L700.2 278.7 L705.1 302.1 L710.1 293 L719.9 313.6 L724.8 294.2 L729.7 296.7 L734.7 310.2 L739.6 299.6 L744.5 315.6 L749.4 312.6 L754.3 359.7 L759 337 L764 374.3 L768.9 361.3 L773.9 355.6 L779 362 L783.9 350.7 L788.9 329.3 L793.8 335.4 L798.7 334.2 L803.6 330.5 L808.5 288.7 L813.5 307.9 L818.9 304 L823.8 305.9 L828.7 309.1 L833.6 307.9 L838 307.4 L843 303 L847.9 284.5 L853.3 287.5 L857.7 296.1 L862.6 282.6 L867.6 293.6 L872.5 303.5 L877.4 298 L892.2 267.1 L897.1 276.4 L902 276.9 L906.9 267.3 L911.8 279.4 L917.2 273.9 L921.7 256.2 L926.6 259.2 L932 265.3 L936.4 288.7 L941.3 304.7 L946.3 308.9 L951.2 298.5 L956.1 299.3 L961 296.8 L965.9 299 L971.3 300 L976.3 306.7 L985.6 268.5 L990.5 269 L995.4 258.7 L1000.4 255 L1005.3 246.4 L1010.2 253.8 L1015.6 256.7 L1020.5 251.1 L1025.5 254.8 L1030.4 260.9 L1035.3 269.8 L1040.2 275.7 L1044.6 258.5 L1049.6 285 L1054.5 290.4 L1059.4 286.2 L1064.3 276.4 L1069.2 256.2 L1074.2 248.1 L1079.1 242 L1084 252.3 L1088.9 236.6 L1093.9 248.4 L1098.8 245.2 L1104 240 L1107.8 224.6 L1109 221 L1113.9 216.2 L1118.3 189.2 L1123.2 173.2 L1128.1 183 L1133.5 164.6 L1138.5 181.1 L1143.4 192.9 L1148.3 199 L1153.2 207.6 L1158.1 212.1 L1162.6 201.5 L1167.5 217 L1172.9 213.8 L1177.8 219.9 L1182.7 221.9 L1187.6 215 L1192.6 210.1 L1197.5 214.5 L1202.4 216.7 L1207.3 225.3 L1212.2 226.6 L1217.2 221.2 L1222.1 216.2 L1227 213.3 L1230.7 224.6 L1231.9 227.3 L1236.8 235.9 L1241.7 236.7 L1246.7 248.2 L1251.6 250.7 L1257.2 253.1 L1261.4 240.3 L1266.3 240.1 L1271.3 237.1 L1276.2 246.5 L1281.1 249.4 L1286 245.3 L1290.9 238.4 L1296.6 240.8 L1300.8 224.6 L1305.7 221.9 L1310.6 192.9 L1315.5 189.2 L1320.4 199.8 L1325.4 205.7 L1330.3 206.9 L1335.2 195.3 L1340.1 200.3 L1345 196.1 L1347.5 224.6 L1350 243.3 L1354.4 232.2 L1359.3 224.6 L1364.7 186.2 L1369.6 200.3 L1374.6 211.3 L1379.5 188 L1384.4 176.9 L1389.3 164.6 L1395 181.8 L1399.9 218.7 L1404.6 221.5 L1405.5 224.6 L1408.8 256 L1418.6 371.8 L1434.6 311.5" stroke="#16C784"/></g>
<g clip-path="url(#dn)"><path d="M15.6 250 L20.8 292.5 L26 272.5 L30.2 188.4 L35.5 201.5 L40 199 L42.2 206 L45.1 215 L48.6 203 L50.6 203.4 L54.8 270 L60.4 276 L64.7 251 L74.7 222 L84.5 143.5 L89.4 121.8 L94.8 144.7 L99.8 154.5 L104.7 141.5 L109.6 154.5 L114 104.1 L119.4 107 L124.4 103.6 L129.3 109 L134.2 141.5 L139.1 121.3 L143.5 82 L149 72.6 L153.9 76.6 L158.8 83.2 L163.7 87.4 L168.6 163.1 L173.5 197.6 L178.5 148.4 L183.4 122.6 L188.3 185.8 L193.2 188.2 L198.1 186.5 L203 170 L208 219.2 L222.7 171.5 L227.2 262 L232.6 289.3 L238.2 278.2 L242.4 235.2 L246.6 216.7 L252.2 211.8 L257.2 218 L262.1 197.3 L267 188.3 L271.9 164.4 L281.8 96.7 L286.7 136.6 L291.6 134.1 L301.4 111.5 L306.4 133.6 L311.3 141.5 L316.2 131.7 L320.6 79 L326 77 L331 88.1 L335.9 91.8 L340.8 124.3 L345.7 97 L350.6 61.8 L355.5 86.9 L360.5 103.6 L365.4 95.5 L370.3 77 L375.2 93 L380.1 102.4 L384.9 101.6 L389.8 95.5 L394.8 87.4 L399.7 86.9 L404.6 72.6 L409.5 74.6 L414.9 96.7 L419.8 94.3 L424.8 102.1 L429.7 95.5 L434.6 109 L439.5 118.4 L444.4 126.7 L449.4 115.2 L454.3 111 L459.2 123.3 L464.1 143.5 L469 164.4 L474 174.2 L478.9 141.5 L483.8 181.6 L488.7 198.1 L493.6 163.1 L498.1 143.5 L503.5 140.5 L508.4 150.8 L513.3 156.2 L518.2 180.3 L523.1 190.2 L528.1 169.3 L533 172.5 L542.8 175.4 L547.7 191.4 L552.7 207.4 L557.6 209.9 L562.5 190.9 L567.4 211.1 L572.3 217 L576 224.6 L582.2 249.2 L587.1 257.1 L592 245 L596.9 248.7 L601.8 258.5 L606.8 241.8 L608.7 224.6 L611.7 194.5 L616.6 214.3 L625.9 224.6 L631.4 256.6 L636.3 256.6 L641.2 291.5 L646.1 261 L651 263.9 L656 273.8 L660.9 259.8 L665.8 272.1 L671.4 268.4 L675.6 251.2 L680.5 282.4 L685.5 252.4 L690.4 268.4 L695.3 260.3 L700.2 278.7 L705.1 302.1 L710.1 293 L719.9 313.6 L724.8 294.2 L729.7 296.7 L734.7 310.2 L739.6 299.6 L744.5 315.6 L749.4 312.6 L754.3 359.7 L759 337 L764 374.3 L768.9 361.3 L773.9 355.6 L779 362 L783.9 350.7 L788.9 329.3 L793.8 335.4 L798.7 334.2 L803.6 330.5 L808.5 288.7 L813.5 307.9 L818.9 304 L823.8 305.9 L828.7 309.1 L833.6 307.9 L838 307.4 L843 303 L847.9 284.5 L853.3 287.5 L857.7 296.1 L862.6 282.6 L867.6 293.6 L872.5 303.5 L877.4 298 L892.2 267.1 L897.1 276.4 L902 276.9 L906.9 267.3 L911.8 279.4 L917.2 273.9 L921.7 256.2 L926.6 259.2 L932 265.3 L936.4 288.7 L941.3 304.7 L946.3 308.9 L951.2 298.5 L956.1 299.3 L961 296.8 L965.9 299 L971.3 300 L976.3 306.7 L985.6 268.5 L990.5 269 L995.4 258.7 L1000.4 255 L1005.3 246.4 L1010.2 253.8 L1015.6 256.7 L1020.5 251.1 L1025.5 254.8 L1030.4 260.9 L1035.3 269.8 L1040.2 275.7 L1044.6 258.5 L1049.6 285 L1054.5 290.4 L1059.4 286.2 L1064.3 276.4 L1069.2 256.2 L1074.2 248.1 L1079.1 242 L1084 252.3 L1088.9 236.6 L1093.9 248.4 L1098.8 245.2 L1104 240 L1107.8 224.6 L1109 221 L1113.9 216.2 L1118.3 189.2 L1123.2 173.2 L1128.1 183 L1133.5 164.6 L1138.5 181.1 L1143.4 192.9 L1148.3 199 L1153.2 207.6 L1158.1 212.1 L1162.6 201.5 L1167.5 217 L1172.9 213.8 L1177.8 219.9 L1182.7 221.9 L1187.6 215 L1192.6 210.1 L1197.5 214.5 L1202.4 216.7 L1207.3 225.3 L1212.2 226.6 L1217.2 221.2 L1222.1 216.2 L1227 213.3 L1230.7 224.6 L1231.9 227.3 L1236.8 235.9 L1241.7 236.7 L1246.7 248.2 L1251.6 250.7 L1257.2 253.1 L1261.4 240.3 L1266.3 240.1 L1271.3 237.1 L1276.2 246.5 L1281.1 249.4 L1286 245.3 L1290.9 238.4 L1296.6 240.8 L1300.8 224.6 L1305.7 221.9 L1310.6 192.9 L1315.5 189.2 L1320.4 199.8 L1325.4 205.7 L1330.3 206.9 L1335.2 195.3 L1340.1 200.3 L1345 196.1 L1347.5 224.6 L1350 243.3 L1354.4 232.2 L1359.3 224.6 L1364.7 186.2 L1369.6 200.3 L1374.6 211.3 L1379.5 188 L1384.4 176.9 L1389.3 164.6 L1395 181.8 L1399.9 218.7 L1404.6 221.5 L1405.5 224.6 L1408.8 256 L1418.6 371.8 L1434.6 311.5" stroke="#EA3943"/></g>
</g>
<!-- baseline label -->
<rect x="20.5" y="206" width="89.5" height="41" rx="7" fill="#fff" fill-opacity="0.82"/>
<text x="28" y="235.6" font-size="22.8" fill="#58667E" letter-spacing="0.25" stroke="#58667E" stroke-width="0.3">96.73K</text>
<!-- y labels -->
<g class="ax"><text x="1449" y="107.6">97.50K</text><text x="1449" y="188.3">97.00K</text><text x="1449" y="268.9">96.50K</text><text x="1449" y="349.6">96.00K</text><text x="1449" y="430.3">95.50K</text></g>
<!-- last price -->
<rect x="1436.5" y="286" width="97.5" height="51.5" rx="6" fill="#EA3943"/>
<text x="1448.3" y="319.6" font-size="22.2" fill="#fff" letter-spacing="0.1" stroke="#fff" stroke-width="0.4">96.18K</text>
<!-- x labels -->
<g class="ax"><text x="17" y="534" text-anchor="start">3:00 PM</text><text x="193" y="534" text-anchor="middle">6:00 PM</text><text x="370.5" y="534" text-anchor="middle">9:00 PM</text><text x="547.5" y="534" text-anchor="middle">15 Jan</text><text x="725" y="534" text-anchor="middle">3:00 AM</text><text x="902.5" y="534" text-anchor="middle">6:00 AM</text><text x="1080" y="534" text-anchor="middle">9:00 AM</text><text x="1256.5" y="534" text-anchor="middle">12:00 PM</text><text x="1434" y="534" text-anchor="middle">3:00 PM</text></g>
<!-- history badge -->
<path d="M16.3 569.8 L27.6 558.4 Q33 546 49.5 546 L93 546 A25 25 0 0 1 93 596 L49.5 596 Q33 596 27.6 581.4 Z" fill="#A6B0C3"/>
<g fill="none" stroke="#fff" stroke-width="2.5" stroke-linecap="round" stroke-linejoin="round">
<path d="M39.3 565.4 A9.6 9.6 0 1 1 40.3 575.3"/>
<path d="M47.9 563.2 L47.9 568.6 L53.4 572"/>
</g>
<path d="M35.3 563.4 L41.4 566 L37 570.2 Z" fill="#fff"/>
<text x="67.8" y="577.8" font-size="22.6" fill="#fff" stroke="#fff" stroke-width="0.45">129</text>
<!-- analyze -->
<path d="M1340 548.5 L1347.8 540.2 L1355.6 548.5 Z" fill="#3861FB"/>
<rect x="1262" y="548" width="172" height="47.8" rx="23.9" fill="#3861FB"/>
<g fill="none" stroke="#fff" stroke-width="2.7" stroke-linecap="round" stroke-linejoin="round">
<path d="M1298.6 579.9 A11.9 11.9 0 0 1 1283.3 581.2 L1277.8 584.2 L1279.4 577 A11.9 11.9 0 1 1 1301.8 572.2 Q1301.4 575.6 1298.8 575.8 Q1296.6 575.8 1296.4 573.2 L1296 568 L1289.6 576.6 L1289.2 568 L1283 575.6"/>
</g>
<text x="1310.3" y="579.8" font-size="22.4" fill="#fff" letter-spacing="0.5" stroke="#fff" stroke-width="0.55">Analyze</text>
<path d="M1404.5 566.4 L1411.7 574 L1404.5 581.6" fill="none" stroke="#fff" stroke-width="2.2" stroke-linecap="round" stroke-linejoin="round"/>
<!-- navigator -->
<g stroke="#F0F0F0" stroke-width="1.2" fill="none">
<line x1="16" x2="1436" y1="604.7" y2="604.7"/>
<line x1="16" x2="1436" y1="685.3" y2="685.3"/>
<line x1="149" x2="149" y1="605" y2="685"/><line x1="332.7" x2="332.7" y1="605" y2="685"/><line x1="515.5" x2="515.5" y1="605" y2="685"/><line x1="699.3" x2="699.3" y1="605" y2="685"/><line x1="881.5" x2="881.5" y1="605" y2="685"/><line x1="1065" x2="1065" y1="605" y2="685"/><line x1="1249" x2="1249" y1="605" y2="685"/><line x1="1431" x2="1431" y1="605" y2="685"/>
<line x1="1434.3" x2="1434.3" y1="605" y2="685"/>
</g>
<path d="M16 685.2 L36 685.2 L56 685.2 L76 685.2 L96 685.2 L116 685.2 L136 685.2 L156 685.2 L176 685.2 L196 685.2 L216 685.2 L236 685.2 L256 685.2 L276 685.2 L296 685.2 L316 685.2 L336 685.2 L356 685.2 L376 685.2 L396 685.2 L416 685.2 L436 685.2 L456 685.2 L476 685.2 L496 685.2 L516 685.2 L536 685.2 L556 685.2 L576 685 L596 684.9 L616 684.4 L636 684 L637.4 683.9 L638.8 683.9 L640.2 683.8 L641.6 683.8 L643 683.7 L644.4 683.5 L645.8 683.4 L647.2 683.4 L648.6 683.5 L650 683.3 L651.4 683.3 L652.8 683.1 L654.2 683.1 L655.6 683 L657 682.9 L658.4 682.9 L659.8 682.8 L661.2 682.8 L662.6 682.6 L664 682.6 L665.4 682.4 L666.8 682.4 L668.2 682.2 L669.6 681.9 L671 682 L672.4 681.9 L673.8 681.8 L675.2 681.5 L676.6 681.4 L678 681.1 L679.4 681.2 L680.8 681 L682.2 680.7 L683.6 680.4 L685 680.7 L686.4 680.6 L687.8 680 L689.2 680.2 L690.6 679.2 L692 677.4 L693.4 676 L694.8 675.3 L696.2 674.5 L697.6 674.6 L699 676.1 L700.4 676.1 L701.8 677.1 L703.2 677.2 L704.6 678 L706 678.4 L707.4 678.4 L708.8 679.1 L710.2 679.1 L711.6 679.4 L713 679.7 L714.4 679.3 L715.8 679.2 L717.2 679.4 L718.6 679.8 L720 679.9 L721.4 680.1 L722.8 680.6 L724.2 680.3 L725.6 680.5 L727 680.4 L728.4 680 L729.8 680 L731.2 680.1 L732.6 680.2 L734 680.3 L735.4 680.4 L736.8 680.5 L738.2 680.7 L739.6 680.6 L741 680.6 L742.4 680.8 L743.8 680.7 L745.2 680.8 L746.6 681.2 L748 681 L749.4 681.1 L750.8 680.9 L752.2 681 L753.6 681.1 L755 680.9 L756.4 681.2 L757.8 681.2 L759.2 681 L760.6 681.2 L762 681.1 L763.4 681.2 L764.8 681 L766.2 681.2 L767.6 681.1 L769 680.8 L770.4 680.9 L771.8 681.4 L773.2 681.7 L774.6 681.7 L776 682 L777.4 682.3 L778.8 682.4 L780.2 682.7 L781.6 682.7 L783 682.7 L784.4 682.7 L785.8 682.7 L787.2 682.7 L788.6 682.8 L790 682.6 L791.4 682.7 L792.8 682.8 L794.2 682.7 L795.6 682.6 L797 682.8 L798.4 682.6 L799.8 682.6 L801.2 682.7 L802.6 682.7 L804 682.5 L805.4 682.6 L806.8 682.6 L808.2 682.7 L809.6 682.5 L811 682.6 L812.4 682.4 L813.8 682.3 L815.2 682.2 L816.6 682.1 L818 681.8 L819.4 681.5 L820.8 681.2 L822.2 681 L823.6 680.6 L825 680.5 L826.4 680.2 L827.8 679.8 L829.2 679.7 L830.6 679.9 L832 679.8 L833.4 679.8 L834.8 679.4 L836.2 679.2 L837.6 679.1 L839 679.3 L840.4 678.8 L841.8 678.7 L843.2 678.6 L844.6 678.5 L846 678.3 L847.4 678.7 L848.8 678.3 L850.2 678.4 L851.6 679.2 L853 679.3 L854.4 679.5 L855.8 679.3 L857.2 679.7 L858.6 679.7 L860 679.4 L861.4 679.8 L862.8 679.9 L864.2 679.8 L865.6 679.9 L867 679.9 L868.4 680.1 L869.8 680.1 L871.2 680.2 L872.6 680.6 L874 680.5 L875.4 680.7 L876.8 680.4 L878.2 680.8 L879.6 680.8 L881 680.8 L882.4 680.7 L883.8 680.6 L885.2 680.4 L886.6 680 L888 680.3 L889.4 679.9 L890.8 679.8 L892.2 679.9 L893.6 679.6 L895 679.4 L896.4 679.6 L897.8 679.8 L899.2 680.2 L900.6 680.7 L902 681.5 L903.4 681.7 L904.8 681.7 L906.2 681.4 L907.6 681.2 L909 681.2 L910.4 681.3 L911.8 680.9 L913.2 681 L914.6 680.9 L916 680.7 L917.4 680.6 L918.8 680.1 L920.2 680.3 L921.6 680.3 L923 679.9 L924.4 680 L925.8 679.9 L927.2 680 L928.6 679.8 L930 679.7 L931.4 679.8 L932.8 679.2 L934.2 679.1 L935.6 679 L937 678.9 L938.4 678.7 L939.8 679.1 L941.2 679.2 L942.6 678.9 L944 679.3 L945.4 679.3 L946.8 679.3 L948.2 679.2 L949.6 679.2 L951 679 L952.4 678.7 L953.8 678.3 L955.2 678 L956.6 677.5 L958 677.5 L959.4 677.3 L960.8 676.5 L962.2 675.6 L963.6 675.1 L965 674.6 L966.4 674.2 L967.8 674.4 L969.2 674.2 L970.6 674.8 L972 673 L973.4 670.5 L974.8 668.1 L976.2 666.4 L977.6 665 L979 664.4 L980.4 665.7 L981.8 665.5 L983.2 659 L984.6 657.5 L986 656.1 L987.4 652.6 L988.8 653.4 L990.2 654 L991.6 655.2 L993 654.2 L994.4 651.6 L995.8 653.2 L997.2 652.7 L998.6 650.5 L1000 650.6 L1001.4 650.3 L1002.8 653.4 L1004.2 653.1 L1005.6 653.9 L1007 654.1 L1008.4 655.6 L1009.8 658.3 L1011.2 660.8 L1012.6 661.4 L1014 663.5 L1015.4 662.5 L1016.8 661.1 L1018.2 664 L1019.6 664.5 L1021 665.2 L1022.4 665.2 L1023.8 666.7 L1025.2 665 L1026.6 662.3 L1028 661.8 L1029.4 658.1 L1030.8 658.8 L1032.2 657.5 L1033.6 657.2 L1035 657 L1036.4 655.4 L1037.8 657.7 L1039.2 657.4 L1040.6 660.6 L1042 657.2 L1043.4 655.1 L1044.8 651.3 L1046.2 651.5 L1047.6 650.8 L1049 647.2 L1050.4 647.1 L1051.8 646.8 L1053.2 647 L1054.6 646.7 L1056 649.2 L1057.4 651.4 L1058.8 653.5 L1060.2 656 L1061.6 657.2 L1063 656.9 L1064.4 656.5 L1065.8 657.4 L1067.2 659 L1068.6 659.2 L1070 660.8 L1071.4 662.5 L1072.8 661.3 L1074.2 661.7 L1075.6 659.7 L1077 660.6 L1078.4 661 L1079.8 661.3 L1081.2 661.4 L1082.6 661.4 L1084 660.8 L1085.4 660.5 L1086.8 657.7 L1088.2 656.9 L1089.6 658.6 L1091 659.7 L1092.4 659.3 L1093.8 660.2 L1095.2 661.9 L1096.6 662.3 L1098 664.5 L1099.4 665.6 L1100.8 667.5 L1102.2 667 L1103.6 666.8 L1105 667.6 L1106.4 669.1 L1107.8 670.2 L1109.2 672.6 L1110.6 672.1 L1112 672.6 L1113.4 672.2 L1114.8 671.7 L1116.2 671.5 L1117.6 671 L1119 671.4 L1120.4 671.1 L1121.8 670.6 L1123.2 671 L1124.6 671.4 L1126 672.3 L1127.4 671.9 L1128.8 673.2 L1130.2 672.8 L1131.6 673.1 L1133 673.1 L1134.4 673.7 L1135.8 673.7 L1137.2 673.5 L1138.6 673.4 L1140 673.8 L1141.4 674.2 L1142.8 674 L1144.2 674.6 L1145.6 675.1 L1147 674.9 L1148.4 674.6 L1149.8 674.3 L1151.2 674.7 L1152.6 674.4 L1154 674.5 L1155.4 674.1 L1156.8 673 L1158.2 672.6 L1159.6 672.3 L1161 671.9 L1162.4 672.4 L1163.8 672.4 L1165.2 672.3 L1166.6 671.3 L1168 672 L1169.4 670.9 L1170.8 670.7 L1172.2 670.8 L1173.6 669.6 L1175 669.2 L1176.4 670 L1177.8 669 L1179.2 669.2 L1180.6 669.6 L1182 669.8 L1183.4 668.9 L1184.8 669.5 L1186.2 669.7 L1187.6 669.7 L1189 669.2 L1190.4 669.7 L1191.8 670.2 L1193.2 669.2 L1194.6 669.2 L1196 668.1 L1197.4 667.9 L1198.8 668.1 L1200.2 667 L1201.6 668.2 L1203 668.1 L1204.4 666.6 L1205.8 668.3 L1207.2 667.6 L1208.6 668.5 L1210 668.6 L1211.4 668.1 L1212.8 668.9 L1214.2 669.1 L1215.6 669.6 L1217 669 L1218.4 670 L1219.8 670.6 L1221.2 670.2 L1222.6 669.7 L1224 668.8 L1225.4 669.1 L1226.8 668.4 L1228.2 668.3 L1229.6 667.6 L1231 666.7 L1232.4 665.2 L1233.8 665.4 L1235.2 664.7 L1236.6 662.9 L1238 663.6 L1239.4 662.2 L1240.8 660.1 L1242.2 661.6 L1243.6 659.3 L1245 659.4 L1246.4 660 L1247.8 659.3 L1249.2 658.8 L1250.6 658.7 L1252 658.8 L1253.4 659.1 L1254.8 659.5 L1256.2 658.8 L1257.6 658.2 L1259 657 L1260.4 655.4 L1261.8 652.4 L1263.2 647.2 L1264.6 644.5 L1266 643 L1267.4 644.8 L1268.8 642.3 L1270.2 644 L1271.6 642.9 L1273 644.3 L1274.4 643.1 L1275.8 644.1 L1277.2 645.3 L1278.6 646.4 L1280 647.8 L1281.4 646 L1282.8 645.9 L1284.2 642.7 L1285.6 642.6 L1287 642.9 L1288.4 643.9 L1289.8 647.1 L1291.2 648.1 L1292.6 647.1 L1294 646.5 L1295.4 646.5 L1296.8 647.2 L1298.2 647.3 L1299.6 646.9 L1301 646.7 L1302.4 647.1 L1303.8 649.3 L1305.2 649.6 L1306.6 650.3 L1308 649.2 L1309.4 647.7 L1310.8 647.6 L1312.2 650.6 L1313.6 648.9 L1315 651.1 L1316.4 650.8 L1317.8 650 L1319.2 647.2 L1320.6 646.8 L1322 646 L1323.4 645.2 L1324.8 645.4 L1326.2 640.6 L1327.6 632.4 L1329 632.9 L1330.4 630.4 L1331.8 629.5 L1333.2 628.5 L1334.6 624.8 L1336 625.7 L1337.4 624 L1338.8 626.5 L1340.2 628 L1341.6 627.5 L1343 625.7 L1344.4 626 L1345.8 624 L1347.2 625 L1348.6 626.2 L1350 626.3 L1351.4 627.6 L1352.8 630.3 L1354.2 631.6 L1355.6 631.4 L1357 635.7 L1358.4 637.2 L1359.8 636 L1361.2 636.6 L1362.6 635.7 L1364 634.5 L1365.4 635.3 L1366.8 634.7 L1368.2 630.6 L1369.6 630.5 L1371 628.2 L1372.4 624.7 L1373.8 625.5 L1375.2 623.2 L1376.6 623.5 L1378 622.6 L1379.4 623.2 L1380.8 622.3 L1382.2 623.5 L1383.6 623.7 L1385 622 L1386.4 618.7 L1387.8 618.2 L1389.2 616.2 L1390.6 613.8 L1392 614.3 L1393.4 615.2 L1394.8 616.4 L1396.2 616.7 L1397.6 618 L1399 618.9 L1400.4 617.7 L1401.8 616.7 L1403.2 617.3 L1404.6 615.6 L1406 615.1 L1407.4 615.1 L1408.8 613.3 L1410.2 611.9 L1411.6 615.5 L1413 617.2 L1414.4 617.5 L1415.8 619 L1417.2 620.5 L1418.6 621.8 L1420 621.8 L1421.4 623.1 L1422.8 626.6 L1424.2 631.3 L1425.6 632.1 L1427 636 L1428.4 636.1 L1429.8 636.6 L1431.2 637 L1432.6 638.4 L1434 638.2 L1435.4 638.4 L1435.7 638.4 L1435.7 685.2 L16 685.2 Z" fill="#EFF2F5"/>
<g class="ax"><text x="149.8" y="718.3" text-anchor="middle">2012</text><text x="333.5" y="718.3" text-anchor="middle">2014</text><text x="516.3" y="718.3" text-anchor="middle">2016</text><text x="700.1" y="718.3" text-anchor="middle">2018</text><text x="882.3" y="718.3" text-anchor="middle">2020</text><text x="1065.8" y="718.3" text-anchor="middle">2022</text><text x="1249.8" y="718.3" text-anchor="middle">2024</text><text x="1431.8" y="718.3" text-anchor="middle">2026</text></g>
<rect x="1420" y="624.6" width="27.8" height="38.8" rx="13.9" fill="#fff" filter="url(#sh)"/>
<g stroke="#A6B0C3" stroke-width="1.7"><line x1="1431" x2="1431" y1="637" y2="650.8"/><line x1="1437" x2="1437" y1="637" y2="650.8"/></g>
</svg>
</body></html>
